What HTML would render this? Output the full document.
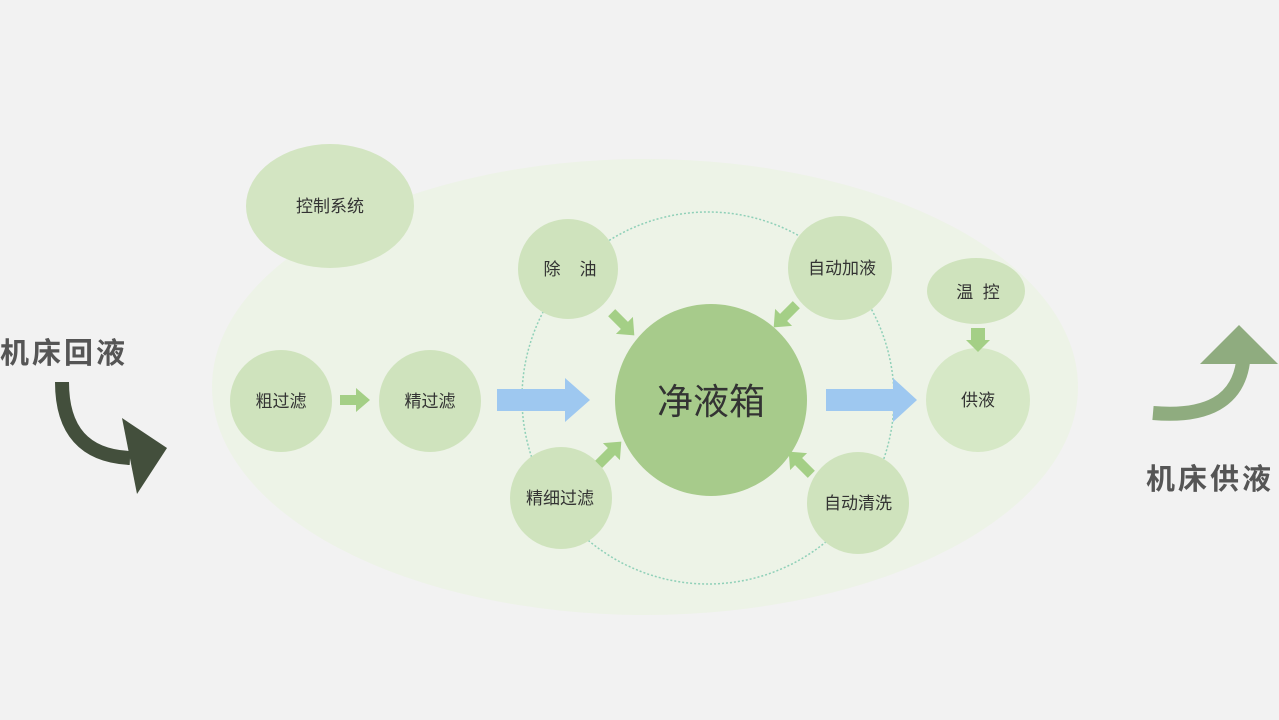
<!DOCTYPE html>
<html><head><meta charset="utf-8"><style>
html,body{margin:0;padding:0;background:#f2f2f2;}
svg{display:block;font-family:"Liberation Sans","Noto Sans CJK SC",sans-serif;}
</style></head><body>
<svg width="1279" height="720" viewBox="0 0 1279 720">
<rect width="1279" height="720" fill="#f2f2f2"/>
<ellipse cx="645" cy="387" rx="433" ry="228" fill="#edf3e7"/>
<circle cx="708" cy="398" r="186" fill="none" stroke="#8fd0b8" stroke-width="1.5" stroke-dasharray="2 2"/>
<ellipse cx="330" cy="206" rx="84" ry="62" fill="#d3e5c2"/>
<g fill="#cfe3bd">
<circle cx="281" cy="401" r="51"/>
<circle cx="430" cy="401" r="51"/>
<circle cx="568" cy="269" r="50"/>
<circle cx="840" cy="268" r="52"/>
<circle cx="561" cy="498" r="51"/>
<circle cx="858" cy="503" r="51"/>
<ellipse cx="976" cy="291" rx="49" ry="33"/>
<circle cx="978" cy="400" r="52" fill="#d6e8c6"/>
</g>
<circle cx="711" cy="400" r="96" fill="#a7cb8b"/>
<g fill="#a4cf86">
<polygon points="340,395 356,395 356,388 370,400 356,412 356,405 340,405"/>
<polygon points="971,328 985,328 985,340 990,340 978,352 966,340 971,340"/>
</g>
<g fill="#9ec8f0">
<polygon points="497,389 565,389 565,378 590,400 565,422 565,411 497,411"/>
<polygon points="826,389 893,389 893,378 917,400 893,422 893,411 826,411"/>
</g>
<g fill="#a4cf86">
<g transform="translate(623,324) rotate(45)"><polygon points="-16,-5 2,-5 2,-12 16,0 2,12 2,5 -16,5"/></g>
<g transform="translate(785,316) rotate(135)"><polygon points="-16,-5 2,-5 2,-12 16,0 2,12 2,5 -16,5"/></g>
<g transform="translate(610,453) rotate(-45)"><polygon points="-16,-5 2,-5 2,-12 16,0 2,12 2,5 -16,5"/></g>
<g transform="translate(800,463) rotate(-135)"><polygon points="-16,-5 2,-5 2,-12 16,0 2,12 2,5 -16,5"/></g>
</g>
<g fill="#333" font-size="17" text-anchor="middle">
<text x="330" y="212">控制系统</text>
<text x="281" y="407">粗过滤</text>
<text x="430" y="407">精过滤</text>
<text x="570" y="275" xml:space="preserve">除    油</text>
<text x="842" y="274">自动加液</text>
<text x="560" y="504">精细过滤</text>
<text x="858" y="509">自动清洗</text>
<text x="978" y="298" xml:space="preserve">温  控</text>
<text x="978" y="406">供液</text>
<text x="711" y="414" font-size="36">净液箱</text>
</g>
<g fill="#555" font-size="29" font-weight="bold">
<text x="0" y="363" letter-spacing="3">机床回液</text>
<text x="1146" y="489" letter-spacing="3">机床供液</text>
</g>
<path d="M62,382 Q62,455 130,458" fill="none" stroke="#434f3c" stroke-width="14"/>
<polygon points="122,418 167,448 137,494" fill="#434f3c"/>
<path d="M1153,413 Q1235,420 1243,362" fill="none" stroke="#8fac7f" stroke-width="14"/>
<polygon points="1200,364 1239,325 1278,364" fill="#8fac7f"/>
</svg>
</body></html>
